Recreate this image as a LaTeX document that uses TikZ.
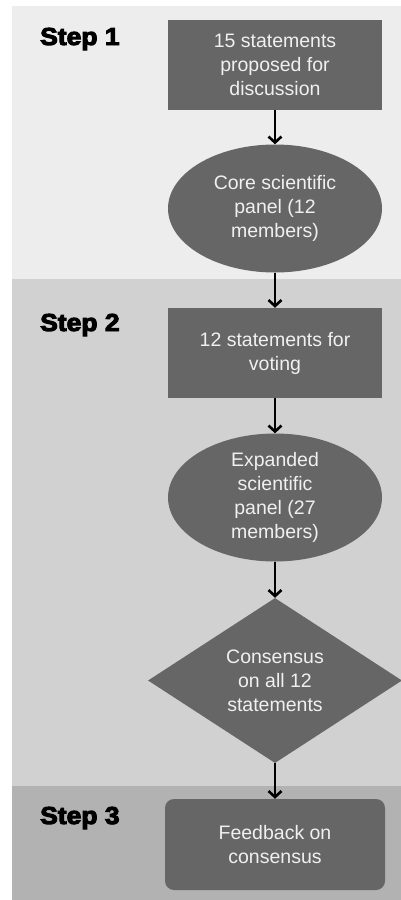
\documentclass[tikz,border=0pt]{standalone}
\usepackage{fontspec}
\setmainfont{Liberation Sans}
\newfontfamily\stepfont[FakeBold=4]{Liberation Sans Bold}
\usetikzlibrary{shapes.geometric,arrows.meta}
\definecolor{bandA}{HTML}{EDEDED}
\definecolor{bandB}{HTML}{D1D1D1}
\definecolor{bandC}{HTML}{B2B2B2}
\definecolor{nodefill}{HTML}{666666}
\definecolor{nodetext}{HTML}{F0F0F0}
\tikzset{
  x=1pt, y=-1pt,
  base/.style={fill=nodefill, draw=none, text=nodetext, align=center, inner sep=0pt,
    font=\fontsize{19.5}{24}\selectfont},
  rectbox/.style={base, rectangle, minimum width=214pt, minimum height=90pt},
  ovalbox/.style={base, ellipse, minimum width=214pt, minimum height=128pt},
  diabox/.style={base, diamond, minimum width=254pt, minimum height=165pt},
  roundbox/.style={base, rectangle, rounded corners=9pt, minimum width=220pt, minimum height=91pt},
  steplabel/.style={anchor=base west, inner sep=0pt, font=\stepfont\fontsize{24.5}{26}\selectfont},
  flow/.style={draw=black, line width=2.6pt, -{Straight Barb[length=6pt,width=13pt,line width=2.6pt]}}
}
\begin{document}
\begin{tikzpicture}
\useasboundingbox (0,0) rectangle (401,900);
\fill[white] (0,0) rectangle (401,900);
\fill[bandA] (12,6) rectangle (401,279);
\fill[bandB] (12,279) rectangle (401,786);
\fill[bandC] (12,786) rectangle (401,900);

\node[steplabel] (s1) at (40,45) {\scalebox{1.08}[1]{Step 1}};
\node[steplabel] (s2) at (40,331) {\scalebox{1.08}[1]{Step 2}};
\node[steplabel] (s3) at (40,824) {\scalebox{1.08}[1]{Step 3}};

\node[rectbox] (b1) at (275,64.5) {15 statements\\proposed for\\discussion};
\node[ovalbox] (e1) at (275,208.5) {Core scientific\\panel (12\\members)};
\node[rectbox] (b2) at (275,353) {12 statements for\\voting};
\node[ovalbox] (e2) at (275,497.5) {Expanded\\scientific\\panel (27\\members)};
\node[diabox] (d1) at (275,680.5) {Consensus\\on all 12\\statements};
\node[roundbox] (r1) at (275,844.5) {Feedback on\\consensus};

\draw[flow] (b1) -- (e1);
\draw[flow] (e1) -- (b2);
\draw[flow] (b2) -- (e2);
\draw[flow] (e2) -- (d1);
\draw[flow] (d1) -- (r1);
\end{tikzpicture}
\end{document}
